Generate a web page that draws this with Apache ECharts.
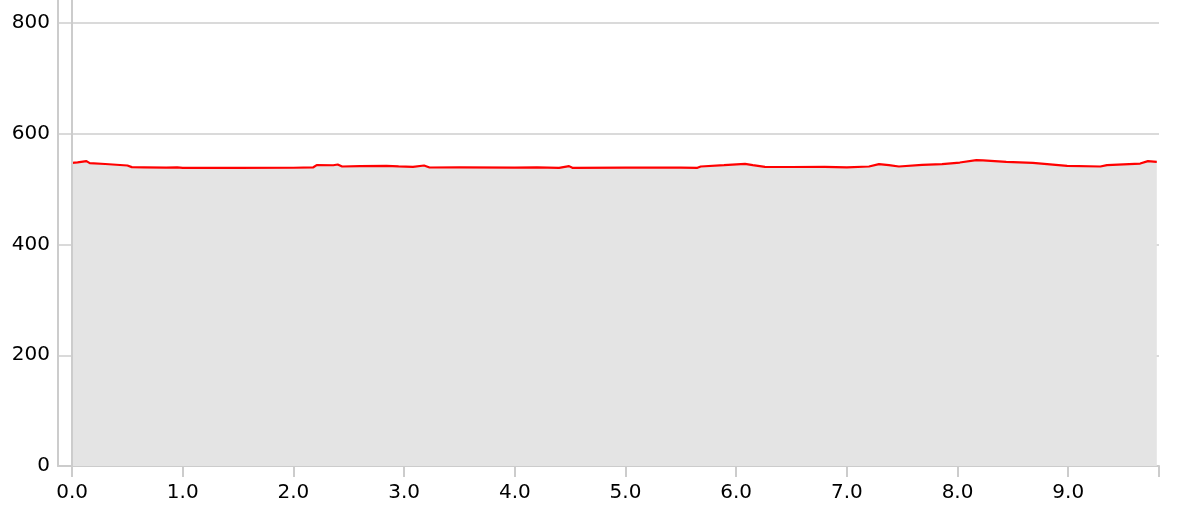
<!DOCTYPE html>
<html>
<head>
<meta charset="utf-8">
<script src="https://cdn.jsdelivr.net/npm/echarts@6/dist/echarts.min.js"></script>
<style>html,body{margin:0;padding:0;background:#fff;}#c{width:1181px;height:516px;}</style>
</head>
<body>
<div id="c"></div>
<script>
const xValues = [0.00,0.05,0.13,0.16,0.30,0.50,0.54,0.65,0.85,0.95,1.00,1.50,2.00,2.18,2.21,2.36,2.40,2.44,2.60,2.84,2.95,3.08,3.18,3.23,3.50,4.00,4.20,4.40,4.49,4.52,5.00,5.50,5.65,5.68,5.89,6.08,6.15,6.26,6.50,6.80,7.00,7.20,7.29,7.38,7.47,7.68,7.86,8.02,8.17,8.23,8.44,8.68,8.99,9.29,9.35,9.65,9.72,9.80];
const yValues = [547.5,548.5,550.7,547.0,545.5,542.7,539.8,539.5,538.8,539.2,538.5,538.5,538.7,539.5,543.4,543.2,544.5,540.9,541.5,542.2,541.0,540.4,542.7,539.1,539.2,539.0,539.5,538.6,541.6,538.5,539.0,538.8,538.5,540.9,543.4,545.8,543.5,540.4,540.0,540.2,539.5,540.9,545.2,543.4,540.9,544.0,545.2,548.1,552.5,552.0,549.4,547.6,542.2,540.9,543.4,546.3,550.7,549.4];
const xTickValues = [0,1,2,3,4,5,6,7,8,9,9.82];
const xLabelValues = [0,1,2,3,4,5,6,7,8,9];
const xMin = -0.127, xMax = 9.82;
const yMin = 0, yMax = 900, yStep = 200;

const chart = echarts.init(document.getElementById('c'), null, {renderer: 'canvas'});
const data = xValues.map((x, i) => [x, yValues[i]]);
chart.setOption({
  animation: false,
  grid: {left: 58, right: 22, top: -32.3, bottom: 50, containLabel: false, outerBoundsMode: 'none'},
  xAxis: {
    type: 'value', min: xMin, max: xMax,
    axisLine: {show: true, onZero: false, lineStyle: {color: '#cccccc', width: 2}},
    axisTick: {show: true, length: 11, customValues: xTickValues, lineStyle: {color: '#cccccc', width: 2}},
    axisLabel: {customValues: xLabelValues, formatter: v => v.toFixed(1), color: '#000', fontSize: 20, fontFamily: 'DejaVu Sans', margin: 17},
    splitLine: {show: false}
  },
  yAxis: {
    type: 'value', min: yMin, max: yMax, interval: yStep,
    axisLine: {show: true, onZero: false, lineStyle: {color: '#cccccc', width: 2}},
    axisTick: {show: false},
    axisLabel: {color: '#000', fontSize: 20, fontFamily: 'DejaVu Sans', margin: 8, verticalAlign: 'middle', padding: [2, 0, 0, 0]},
    splitLine: {show: true, lineStyle: {color: '#dadada', width: 2}}
  },
  series: [{
    type: 'line', data: data, symbol: 'none', smooth: false,
    lineStyle: {color: '#ff0000', width: 2.2},
    areaStyle: {color: '#e4e4e4', opacity: 1},
    markLine: {
      silent: true, symbol: 'none', label: {show: false},
      lineStyle: {color: '#cccccc', width: 2, type: 'solid'},
      data: [{xAxis: 0}]
    }
  }]
});
</script>
</body>
</html>
